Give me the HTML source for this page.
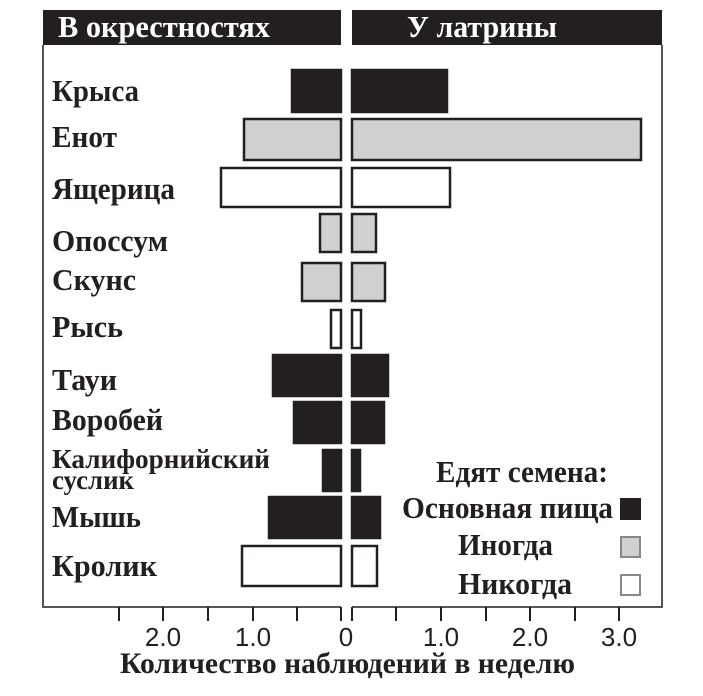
<!DOCTYPE html>
<html><head><meta charset="utf-8"><style>
body{margin:0;background:#fff;}
svg text{font-family:"Liberation Serif","Noto Serif CJK SC",serif;font-weight:bold;fill:#231f20;}
</style></head><body>
<svg width="703" height="691" viewBox="0 0 703 691" xmlns="http://www.w3.org/2000/svg">
<rect x="43" y="10" width="298" height="35" fill="#231f20"/>
<rect x="352" y="10" width="310" height="35" fill="#231f20"/>
<text x="58" y="37" font-size="31" textLength="212" lengthAdjust="spacingAndGlyphs" style="fill:#fff">В окрестностях</text>
<text x="407" y="37" font-size="31" textLength="150" lengthAdjust="spacingAndGlyphs" style="fill:#fff">У латрины</text>
<polyline points="43,45 43,607 341,607" fill="none" stroke="#555" stroke-width="2"/>
<polyline points="352,607 662,607 662,45" fill="none" stroke="#555" stroke-width="2"/>
<g stroke="#231f20" stroke-width="2">
<line x1="119" y1="607" x2="119" y2="621"/><line x1="163" y1="607" x2="163" y2="621"/><line x1="208" y1="607" x2="208" y2="621"/><line x1="253" y1="607" x2="253" y2="621"/><line x1="297" y1="607" x2="297" y2="621"/><line x1="341" y1="607" x2="341" y2="621"/>
<line x1="352" y1="607" x2="352" y2="621"/><line x1="396" y1="607" x2="396" y2="621"/><line x1="441" y1="607" x2="441" y2="621"/><line x1="486" y1="607" x2="486" y2="621"/><line x1="530" y1="607" x2="530" y2="621"/><line x1="575" y1="607" x2="575" y2="621"/><line x1="619" y1="607" x2="619" y2="621"/>
</g>
<g font-size="26" text-anchor="middle">
<text x="163" y="646" style="font-family:'Liberation Sans',sans-serif;font-weight:normal">2.0</text>
<text x="253" y="646" style="font-family:'Liberation Sans',sans-serif;font-weight:normal">1.0</text>
<text x="346" y="646" style="font-family:'Liberation Sans',sans-serif;font-weight:normal">0</text>
<text x="441" y="646" style="font-family:'Liberation Sans',sans-serif;font-weight:normal">1.0</text>
<text x="530" y="646" style="font-family:'Liberation Sans',sans-serif;font-weight:normal">2.0</text>
<text x="619" y="646" style="font-family:'Liberation Sans',sans-serif;font-weight:normal">3.0</text>
</g>
<text x="120" y="673" font-size="30" textLength="455" lengthAdjust="spacingAndGlyphs">Количество наблюдений в неделю</text>
<g stroke="#231f20" stroke-width="2.5">
<rect x="292" y="70" width="49" height="42" fill="#231f20"/><rect x="352" y="70" width="95" height="42" fill="#231f20"/>
<rect x="244" y="119" width="97" height="41" fill="#d0d0d0"/><rect x="352" y="119" width="289" height="41" fill="#d0d0d0"/>
<rect x="221" y="168" width="120" height="39" fill="#fff"/><rect x="352" y="168" width="98" height="39" fill="#fff"/>
<rect x="320" y="214" width="21" height="38" fill="#d0d0d0"/><rect x="352" y="214" width="24" height="38" fill="#d0d0d0"/>
<rect x="302" y="263" width="39" height="38" fill="#d0d0d0"/><rect x="352" y="263" width="33" height="38" fill="#d0d0d0"/>
<rect x="331" y="310" width="10" height="38" fill="#fff"/><rect x="352" y="310" width="9" height="38" fill="#fff"/>
<rect x="273" y="355" width="68" height="41" fill="#231f20"/><rect x="352" y="355" width="36" height="41" fill="#231f20"/>
<rect x="294" y="402" width="47" height="41" fill="#231f20"/><rect x="352" y="402" width="32" height="41" fill="#231f20"/>
<rect x="323" y="450" width="18" height="41" fill="#231f20"/><rect x="352" y="450" width="8" height="41" fill="#231f20"/>
<rect x="269" y="497" width="72" height="41" fill="#231f20"/><rect x="352" y="497" width="28" height="41" fill="#231f20"/>
<rect x="242" y="546" width="99" height="40" fill="#fff"/><rect x="352" y="546" width="25" height="40" fill="#fff"/>
</g>
<g font-size="31" lengthAdjust="spacingAndGlyphs">
<text x="52" y="101" textLength="87" lengthAdjust="spacingAndGlyphs">Крыса</text>
<text x="52" y="147" textLength="65" lengthAdjust="spacingAndGlyphs">Енот</text>
<text x="52" y="199" textLength="123" lengthAdjust="spacingAndGlyphs">Ящерица</text>
<text x="52" y="251" textLength="116" lengthAdjust="spacingAndGlyphs">Опоссум</text>
<text x="52" y="290" textLength="84" lengthAdjust="spacingAndGlyphs">Скунс</text>
<text x="52" y="337" textLength="71" lengthAdjust="spacingAndGlyphs">Рысь</text>
<text x="52" y="390" textLength="65" lengthAdjust="spacingAndGlyphs">Тауи</text>
<text x="52" y="430" textLength="111" lengthAdjust="spacingAndGlyphs">Воробей</text>
<text x="52" y="527" textLength="89" lengthAdjust="spacingAndGlyphs">Мышь</text>
<text x="52" y="576" textLength="105" lengthAdjust="spacingAndGlyphs">Кролик</text>
</g>
<text x="52" y="468" font-size="27" textLength="218" lengthAdjust="spacingAndGlyphs">Калифорнийский</text>
<text x="52" y="489" font-size="27" textLength="82" lengthAdjust="spacingAndGlyphs">суслик</text>
<text x="436" y="482" font-size="31" textLength="172" lengthAdjust="spacingAndGlyphs">Едят семена:</text>
<text x="402" y="518" font-size="31" textLength="211" lengthAdjust="spacingAndGlyphs">Основная пища</text>
<text x="458" y="555" font-size="31" textLength="95" lengthAdjust="spacingAndGlyphs">Иногда</text>
<text x="458" y="594" font-size="31" textLength="114" lengthAdjust="spacingAndGlyphs">Никогда</text>
<rect x="620" y="498" width="21" height="22" fill="#231f20"/>
<rect x="621" y="537" width="19" height="20" fill="#d0d0d0" stroke="#888" stroke-width="2"/>
<rect x="621" y="575" width="19" height="20" fill="#fff" stroke="#888" stroke-width="2"/>
</svg>
</body></html>
